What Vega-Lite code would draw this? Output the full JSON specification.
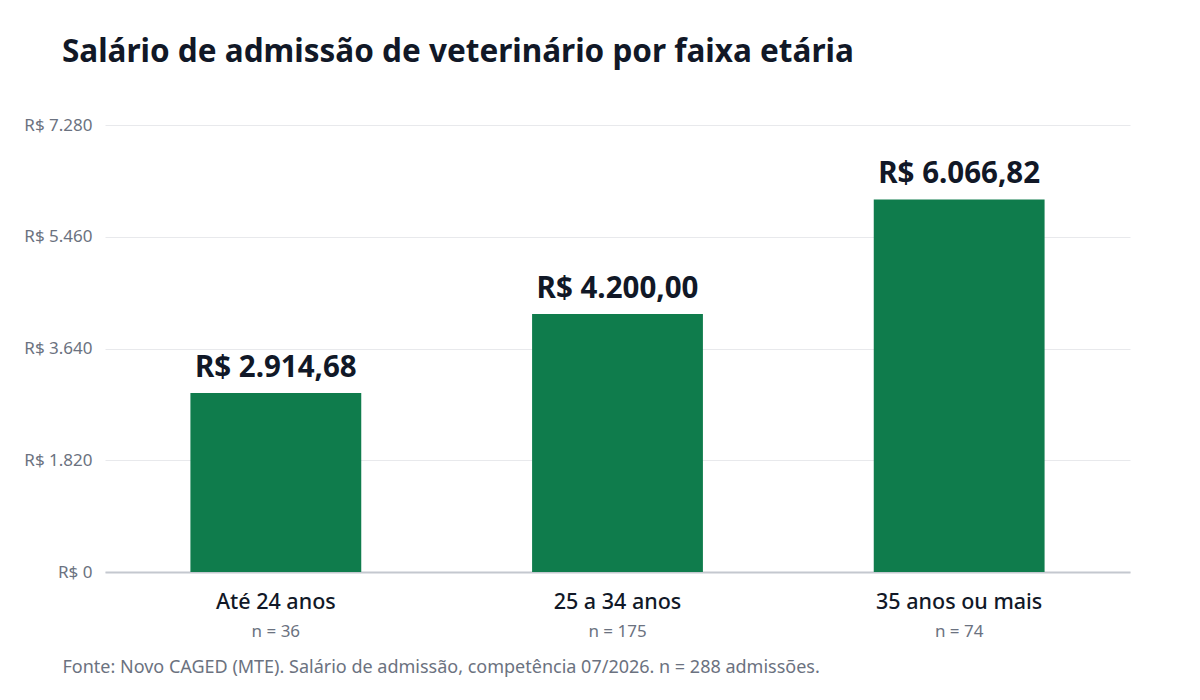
{
  "$schema": "https://vega.github.io/schema/vega-lite/v6.json",
  "width": 1025,
  "height": 447,
  "autosize": {"type": "none"},
  "padding": {"left": 105, "top": 125, "right": 70, "bottom": 128},
  "background": "white",
  "title": {
    "text": "Salário de admissão de veterinário por faixa etária",
    "anchor": "start",
    "frame": "group",
    "dx": -43,
    "offset": 48,
    "fontSize": 31.5,
    "fontWeight": "bold",
    "color": "#111827"
  },
  "data": {
    "values": [
      {"faixa": "Até 24 anos", "salario": 2914.68, "n": 36},
      {"faixa": "25 a 34 anos", "salario": 4200.00, "n": 175},
      {"faixa": "35 anos ou mais", "salario": 6066.82, "n": 74}
    ]
  },
  "transform": [{"calculate": "'n = ' + datum.n", "as": "n_label"}],
  "encoding": {
    "x": {
      "field": "faixa",
      "type": "nominal",
      "sort": null,
      "scale": {"paddingInner": 0.5, "paddingOuter": 0.25},
      "axis": {
        "labelAngle": 0,
        "labelFontSize": 21.5,
        "labelFontWeight": 500,
        "labelColor": "#111827",
        "labelPadding": 19,
        "ticks": false,
        "domainColor": "#c4c8cf",
        "domainWidth": 2,
        "title": "Fonte: Novo CAGED (MTE). Salário de admissão, competência 07/2026. n = 288 admissões.",
        "titleX": -43,
        "titleY": 95,
        "titleAlign": "left",
        "titleAnchor": "start",
        "titleBaseline": "middle",
        "titleFontSize": 18,
        "titleFontWeight": "normal",
        "titleColor": "#6b7280"
      }
    }
  },
  "layer": [
    {
      "mark": {"type": "bar", "color": "#0f7c4c"},
      "encoding": {
        "y": {
          "field": "salario",
          "type": "quantitative",
          "scale": {"domain": [0, 7280], "nice": false},
          "axis": {
            "values": [0, 1820, 3640, 5460, 7280],
            "format": "$,.0f",
            "title": null,
            "domain": false,
            "ticks": false,
            "labelFontSize": 17,
            "labelColor": "#6b7280",
            "labelPadding": 13,
            "gridColor": "#e8e9ec",
            "gridWidth": 1
          }
        }
      }
    },
    {
      "mark": {"type": "text", "dy": -16, "baseline": "alphabetic", "fontSize": 29.5, "fontWeight": "bold", "color": "#111827"},
      "encoding": {
        "y": {"field": "salario", "type": "quantitative"},
        "text": {"field": "salario", "type": "quantitative", "format": "$,.2f"}
      }
    },
    {
      "mark": {"type": "text", "dy": 60, "baseline": "middle", "fontSize": 17, "color": "#6b7280"},
      "encoding": {
        "y": {"datum": 0, "type": "quantitative"},
        "text": {"field": "n_label"}
      }
    }
  ],
  "config": {
    "font": "Noto Sans",
    "view": {"stroke": null},
    "locale": {
      "number": {"decimal": ",", "thousands": ".", "grouping": [3], "currency": ["R$ ", ""]}
    }
  }
}
